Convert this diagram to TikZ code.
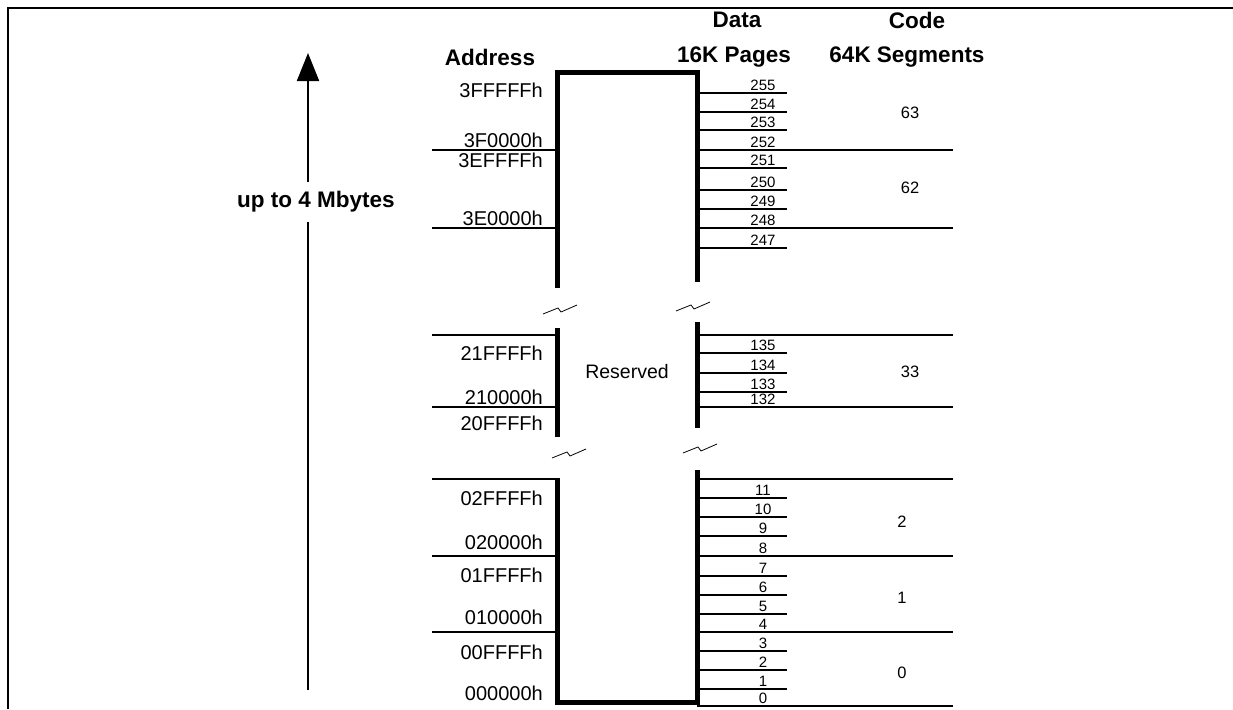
\documentclass[tikz,border=0pt]{standalone}
\usepackage{fontspec}
\setmainfont{Liberation Sans}
\usetikzlibrary{arrows.meta}

\tikzset{
  hdr/.style={font=\bfseries\fontsize{22.5}{26}\selectfont},
  addr/.style={anchor=east, inner sep=0pt, font=\fontsize{20}{22}\selectfont},
  pg/.style={anchor=base, inner sep=0pt, font=\fontsize{15}{16}\selectfont},
  seg/.style={font=\fontsize{16.5}{18}\selectfont},
  wall/.style={line width=5pt},
  tick/.style={line width=1.5pt},
  rule/.style={line width=1.8pt},
}

\begin{document}
\begin{tikzpicture}[x=1pt,y=-1pt]
	\useasboundingbox (0,0) rectangle (1233,709);

	% frame
	\draw[line width=1.5pt] (8,709) -- (8,8) -- (1233,8);

	% headers
	\node[hdr] (hAddr) at (490,57) {Address};
	\node[hdr] (hData) at (737,20) {Data};
	\node[hdr] (hPages) at (734,57) {16K Pages};
	\node[hdr] (hCode) at (917,20) {Code};
	\node[hdr] (hSegs) at (907,57) {64K Segments};

	% size arrow
	\node[hdr, inner ysep=9pt] (upto) at (316,202) {up to 4 Mbytes};
	\coordinate (arrLo) at (308,690);
	\coordinate (arrHi) at (308,53);
	\draw[line width=2pt] (arrLo) -- (arrLo |- upto.south);
	\draw[line width=2pt, -{Triangle[length=28pt,width=22pt]}] (arrLo |- upto.north) -- (arrHi);

	% memory walls
	\draw[wall] (557,288) -- (557,72) -- (697,72) -- (697,282);
	\draw[wall] (557,328) -- (557,437);
	\draw[wall] (697,322) -- (697,428);
	\draw[wall] (557,478) -- (557,702) -- (697,702) -- (697,470);

	% breaks
	\foreach \bx/\by in {543/314, 676/311, 552/458, 683/453}
		\draw[line width=0.8pt] (\bx,\by) -- ++(15,-6) -- ++(3,4) -- ++(16,-7);

	% segment boundaries
	\foreach \y in {150,228,335,407,479,556,632}
		\draw[rule] (432,\y) -- (557,\y);
	\foreach \y in {150,228,335,407,479,556,632,706}
		\draw[rule] (697,\y) -- (953,\y);

	% 16K pages
	\foreach \y/\n in {93/255,112/254,130/253,150/252,168/251,190/250,209/249,228/248,248/247,
	                   353/135,373/134,392/133,407/132,
	                   498/11,517/10,536/9,556/8,576/7,595/6,614/5,632/4,651/3,670/2,689/1,706/0}
	{
		\draw[tick] (697,\y) -- (787,\y);
		\node[pg] (p\n) at (763,\y-3) {\n};
	}

	% addresses
	\foreach \y/\a in {90/3FFFFFh,140/3F0000h,160/3EFFFFh,218/3E0000h,
	                   353/21FFFFh,397/210000h,423/20FFFFh,
	                   498/02FFFFh,542/020000h,575/01FFFFh,617/010000h,652/00FFFFh,693/000000h}
		\node[addr] (a\a) at (543,\y) {\a};

	\node[font=\fontsize{19.5}{22}\selectfont] (resv) at (627,372) {Reserved};

	% 64K segments
	\node[seg] (s63) at (910,113) {63};
	\node[seg] (s62) at (910,188) {62};
	\node[seg] (s33) at (910,372) {33};
	\node[seg] (s2) at (902,522) {2};
	\node[seg] (s1) at (902,598) {1};
	\node[seg] (s0) at (902,673) {0};

\end{tikzpicture}
\end{document}
